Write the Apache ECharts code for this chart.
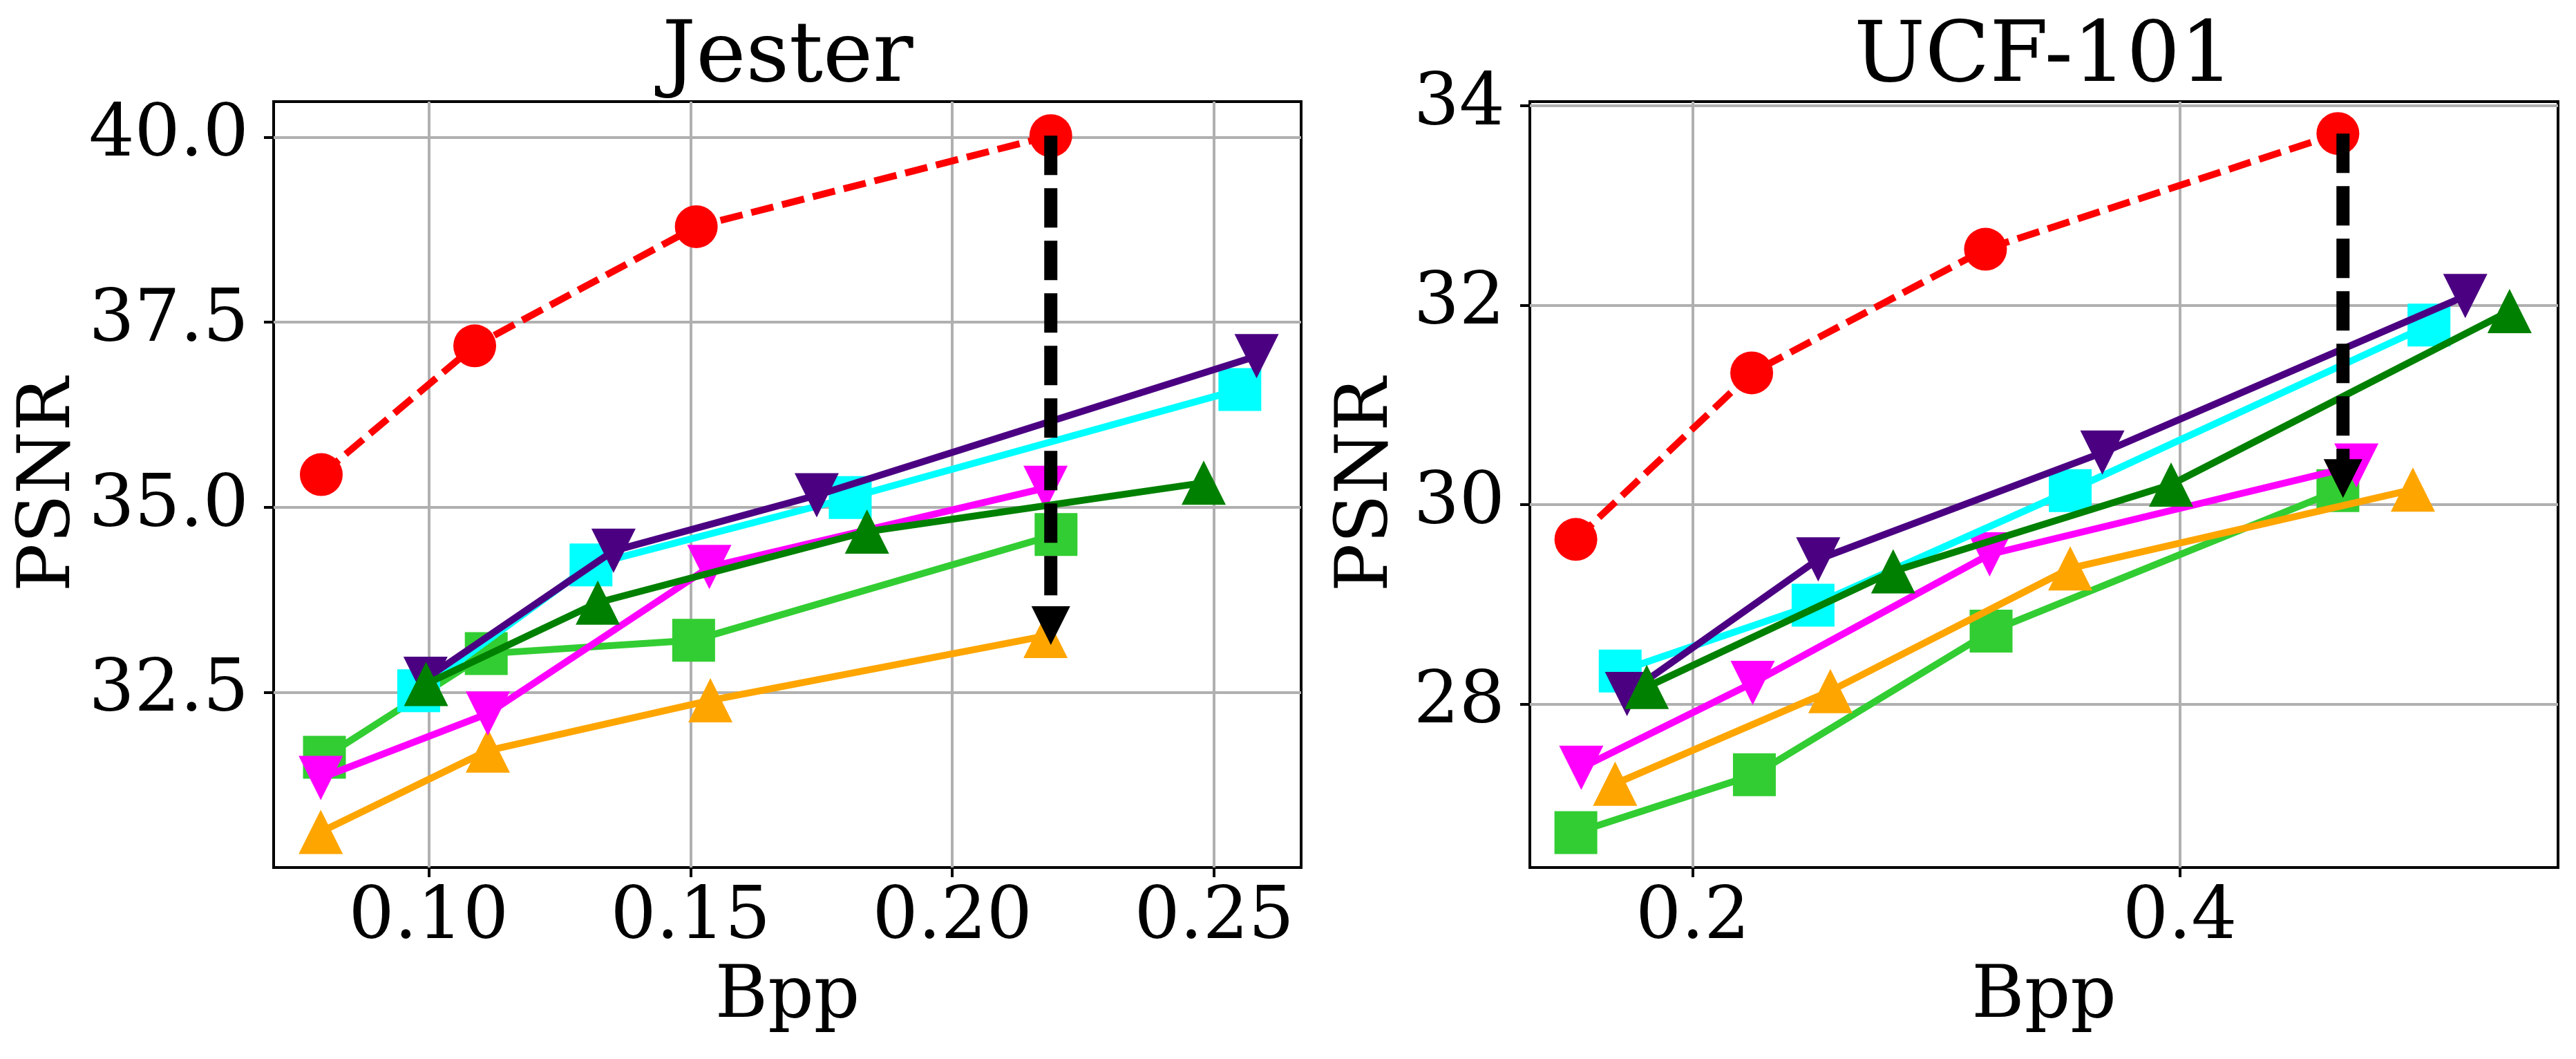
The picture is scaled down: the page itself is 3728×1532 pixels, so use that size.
<!DOCTYPE html>
<html>
<head>
<meta charset="utf-8">
<script src="https://cdn.jsdelivr.net/npm/echarts@6/dist/echarts.min.js"></script>
<style>
html, body { margin: 0; padding: 0; background: #fff; }
#main { width: 3728px; height: 1532px; }
</style>
</head>
<body>
<div id="main"></div>
<script>
// ---- Jester (left panel) ----
var jesterTicksX = [0.10, 0.15, 0.20, 0.25];
var jesterTicksY = [32.5, 35.0, 37.5, 40.0];
var jesterRed     = [[0.0795, 35.44], [0.1088, 37.18], [0.1511, 38.79], [0.2188, 40.02]];
var jesterIndigo  = [[0.0994, 32.68], [0.1353, 34.41], [0.1741, 35.16], [0.2581, 37.04]];
var jesterCyan    = [[0.0981, 32.52], [0.1310, 34.22], [0.1805, 35.13], [0.2549, 36.59]];
var jesterGreen   = [[0.0995, 32.61], [0.1323, 33.71], [0.1837, 34.67], [0.2480, 35.33]];
var jesterMagenta = [[0.0794, 31.34], [0.1113, 32.21], [0.1536, 34.19], [0.2178, 35.26]];
var jesterLime    = [[0.0801, 31.62], [0.1110, 33.02], [0.1506, 33.20], [0.2198, 34.63]];
var jesterOrange  = [[0.0794, 30.61], [0.1113, 31.71], [0.1538, 32.39], [0.2178, 33.26]];
var jesterArrow   = [[0.2188, 40.02], [0.2188, 33.40]];

// ---- UCF-101 (right panel) ----
var ucfTicksX = [0.2, 0.4];
var ucfTicksY = [28, 30, 32, 34];
var ucfRed     = [[0.1520, 29.65], [0.2242, 31.32], [0.3202, 32.56], [0.4649, 33.72]];
var ucfIndigo  = [[0.1730, 28.10], [0.2515, 29.45], [0.3682, 30.52], [0.5172, 32.09]];
var ucfCyan    = [[0.1702, 28.33], [0.2494, 28.99], [0.3550, 30.14], [0.5023, 31.80]];
var ucfGreen   = [[0.1811, 28.17], [0.2823, 29.33], [0.3964, 30.20], [0.5354, 31.94]];
var ucfMagenta = [[0.1542, 27.36], [0.2246, 28.21], [0.3219, 29.50], [0.4725, 30.39]];
var ucfLime    = [[0.1520, 26.71], [0.2253, 27.29], [0.3225, 28.73], [0.4649, 30.14]];
var ucfOrange  = [[0.1681, 27.20], [0.2565, 28.13], [0.3550, 29.36], [0.4957, 30.15]];
var ucfArrow   = [[0.4670, 33.72], [0.4670, 30.26]];

var FONT = 'DejaVu Serif';

function xAxisOpt(gi, min, max, ticks, digits) {
    return {
        type: 'value', gridIndex: gi, min: min, max: max,
        axisLine: { show: false },
        axisTick: { show: true, length: 14, customValues: ticks, lineStyle: { color: '#000', width: 4 } },
        axisLabel: {
            customValues: ticks, margin: 23, color: '#000', fontSize: 104, fontFamily: FONT,
            formatter: function (v) { return v.toFixed(digits); }
        },
        splitLine: { show: true, lineStyle: { color: '#b0b0b0', width: 4 } },
        name: 'Bpp', nameLocation: 'middle', nameGap: 137,
        nameTextStyle: { color: '#000', fontSize: 104, fontFamily: FONT }
    };
}

function yAxisOpt(gi, min, max, ticks, digits, gap) {
    return {
        type: 'value', gridIndex: gi, min: min, max: max,
        axisLine: { show: false },
        axisTick: { show: true, length: 14, customValues: ticks, lineStyle: { color: '#000', width: 4 } },
        axisLabel: {
            customValues: ticks, margin: 36, color: '#000', fontSize: 104, fontFamily: FONT,
            formatter: function (v) { return v.toFixed(digits); }
        },
        splitLine: { show: true, lineStyle: { color: '#b0b0b0', width: 4 } },
        name: 'PSNR', nameLocation: 'middle', nameGap: gap,
        nameTextStyle: { color: '#000', fontSize: 104, fontFamily: FONT }
    };
}

// one curve; rot=180 turns the triangle into a 'v' marker
function curve(gi, data, color, symbol, size, rot, dashed, z) {
    return {
        type: 'line', xAxisIndex: gi, yAxisIndex: gi, data: data,
        symbol: symbol, symbolSize: size, symbolRotate: rot || 0,
        lineStyle: { color: color, width: 10, type: dashed ? [33, 13] : 'solid' },
        itemStyle: { color: color },
        emphasis: { disabled: true },
        z: z, animation: false, silent: true
    };
}

function arrow(gi, data) {
    return {
        type: 'line', xAxisIndex: gi, yAxisIndex: gi,
        data: [
            { value: data[0], symbol: 'none' },
            { value: data[1], symbol: 'triangle', symbolSize: 56, symbolRotate: 180 }
        ],
        lineStyle: { color: '#000', width: 19, type: [57, 19] },
        itemStyle: { color: '#000' },
        emphasis: { disabled: true },
        z: 10, animation: false, silent: true
    };
}

function panel(gi, d) {
    return [
        curve(gi, d.lime, '#32cd32', 'rect', 62, 0, false, 2),
        curve(gi, d.orange, '#ffa500', 'triangle', 64, 0, false, 3),
        curve(gi, d.magenta, '#ff00ff', 'triangle', 64, 180, false, 4),
        curve(gi, d.cyan, '#00ffff', 'rect', 62, 0, false, 5),
        curve(gi, d.indigo, '#4b0082', 'triangle', 64, 180, false, 6),
        curve(gi, d.green, '#008000', 'triangle', 64, 0, false, 7),
        curve(gi, d.red, '#ff0000', 'circle', 62, 0, true, 8),
        arrow(gi, d.arrow)
    ];
}

var chart = echarts.init(document.getElementById('main'), null, { renderer: 'canvas' });

var option = {
    backgroundColor: '#fff',
    animation: false,
    title: [
        { text: 'Jester', left: 1140, top: 24, textAlign: 'center', padding: 0,
          textStyle: { color: '#000', fontSize: 122, fontWeight: 'normal', fontFamily: FONT } },
        { text: 'UCF-101', left: 2958, top: 24, textAlign: 'center', padding: 0,
          textStyle: { color: '#000', fontSize: 122, fontWeight: 'normal', fontFamily: FONT } }
    ],
    grid: [
        { left: 396, top: 147, width: 1487, height: 1108, show: true, borderColor: '#000', borderWidth: 4 },
        { left: 2214, top: 147, width: 1488, height: 1108, show: true, borderColor: '#000', borderWidth: 4 }
    ],
    xAxis: [
        xAxisOpt(0, 0.0704, 0.2666, jesterTicksX, 2),
        xAxisOpt(1, 0.1331, 0.5553, ucfTicksX, 1)
    ],
    yAxis: [
        yAxisOpt(0, 30.13, 40.48, jesterTicksY, 1, 269),
        yAxisOpt(1, 26.36, 34.04, ucfTicksY, 0, 182)
    ],
    series: panel(0, {
        lime: jesterLime, orange: jesterOrange, magenta: jesterMagenta, cyan: jesterCyan,
        indigo: jesterIndigo, green: jesterGreen, red: jesterRed, arrow: jesterArrow
    }).concat(panel(1, {
        lime: ucfLime, orange: ucfOrange, magenta: ucfMagenta, cyan: ucfCyan,
        indigo: ucfIndigo, green: ucfGreen, red: ucfRed, arrow: ucfArrow
    }))
};

chart.setOption(option);
</script>
</body>
</html>
